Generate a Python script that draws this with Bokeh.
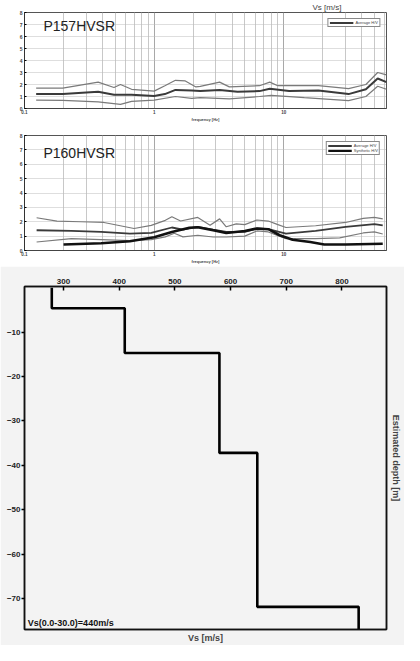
from bokeh.plotting import figure
from bokeh.models import (FixedTicker, CustomJSTickFormatter, Label, Legend, LegendItem,
                          LinearAxis, Range1d)
from bokeh.layouts import column
from bokeh.embed import file_html
from bokeh.resources import INLINE

# ---------------- data ----------------
FREQ_MAJOR = [0.1, 1, 10]
FREQ_MINOR = [0.2, 0.3, 0.4, 0.5, 0.6, 0.7, 0.8, 0.9,
              2, 3, 4, 5, 6, 7, 8, 9, 20, 30, 40, 50, 60]
HV_TICKS = [0, 1, 2, 3, 4, 5, 6, 7, 8]

# P157 HVSR
p157_f_up = [0.123, 0.197, 0.37, 0.49, 0.55, 0.67, 1.0, 1.21, 1.46, 1.74, 2.1, 2.27,
             3.2, 3.8, 6.5, 7.8, 9.0, 18.5, 31.6, 43, 53, 62]
p157_v_up = [1.7, 1.7, 2.2, 1.75, 2.0, 1.6, 1.45, 1.9, 2.35, 2.3, 1.8, 1.85,
             2.2, 1.8, 1.9, 2.2, 1.9, 1.9, 1.65, 2.0, 3.0, 2.8]
p157_f_mean = [0.123, 0.197, 0.37, 0.49, 0.67, 1.0, 1.21, 1.46, 1.95, 2.27, 3.2, 4.4,
               6.5, 7.8, 11, 18.5, 31.6, 43, 53, 62]
p157_v_mean = [1.2, 1.2, 1.4, 1.15, 1.15, 1.05, 1.2, 1.55, 1.5, 1.45, 1.55, 1.4,
               1.45, 1.65, 1.45, 1.5, 1.2, 1.6, 2.5, 2.2]
p157_f_low = [0.123, 0.197, 0.37, 0.55, 0.67, 1.0, 1.46, 1.95, 2.27, 3.8, 6.5, 8.0,
              14.4, 31.6, 43, 53, 62]
p157_v_low = [0.7, 0.68, 0.55, 0.35, 0.6, 0.7, 1.0, 0.85, 0.9, 0.8, 1.0, 1.1,
              0.9, 0.65, 1.0, 1.85, 1.6]

# P160 HVSR
p160_f_up = [0.124, 0.178, 0.272, 0.41, 0.70, 0.95, 1.22, 1.37, 1.6, 2.17, 2.7, 3.2,
             3.6, 4.3, 5.0, 6.2, 7.6, 8.9, 10.4, 17.6, 30, 41, 50, 58]
p160_v_up = [2.28, 2.04, 2.0, 1.95, 1.53, 1.75, 2.1, 2.35, 2.05, 2.3, 1.76, 2.2,
             1.65, 1.85, 1.8, 2.12, 2.05, 1.82, 1.6, 1.72, 1.95, 2.23, 2.3, 2.2]
p160_f_mean = [0.124, 0.23, 0.39, 0.65, 0.95, 1.37, 1.67, 2.17, 2.85, 3.6, 5.0, 6.2,
               7.6, 10.4, 17.6, 30, 50, 58]
p160_v_mean = [1.41, 1.36, 1.29, 1.18, 1.22, 1.6, 1.45, 1.65, 1.45, 1.29, 1.29, 1.53,
               1.48, 1.18, 1.36, 1.64, 1.83, 1.75]
p160_f_low = [0.124, 0.23, 0.39, 0.65, 0.95, 1.22, 1.43, 1.67, 2.17, 2.85, 3.6, 5.0,
              6.2, 7.6, 10.4, 17.6, 27, 41, 50, 58]
p160_v_low = [0.59, 0.83, 0.76, 0.69, 0.76, 0.95, 1.2, 0.95, 1.06, 0.94, 0.94, 1.0,
              1.36, 1.29, 0.82, 0.82, 0.88, 1.22, 1.29, 1.15]
p160_f_syn = [0.2, 0.39, 0.65, 1.0, 1.37, 1.87, 2.17, 2.85, 3.6, 5.0, 6.2, 7.6,
              9.3, 11.7, 16, 20.5, 30, 58]
p160_v_syn = [0.42, 0.5, 0.64, 0.92, 1.29, 1.58, 1.62, 1.41, 1.22, 1.36, 1.53, 1.48,
              1.06, 0.75, 0.59, 0.42, 0.42, 0.47]

# Vs profile
layer_vs = [279, 410, 580, 648, 830]
layer_top = [0.0, -4.6, -14.7, -37.2, -71.9]
layer_bottom = [-4.6, -14.7, -37.2, -71.9, -77.0]
VS_TICKS = [300, 400, 500, 600, 700, 800]
DEPTH_TICKS = [-10, -20, -30, -40, -50, -60, -70]
VS30_TEXT = "Vs(0.0-30.0)=440m/s"

FONT = "Liberation Sans"


def make_hvsr(height, border_top, border_bottom, name):
    p = figure(width=404, height=height, x_axis_type="log",
               x_range=Range1d(0.1, 62), y_range=Range1d(0, 8),
               output_backend="svg", toolbar_location=None,
               min_border_left=4, min_border_right=1,
               min_border_top=border_top, min_border_bottom=border_bottom,
               background_fill_color="white", border_fill_color="white")
    p.outline_line_color = "#555555"
    p.outline_line_width = 1

    xt = FixedTicker(ticks=FREQ_MAJOR, minor_ticks=FREQ_MINOR)
    xa = p.xaxis[0]
    xa.ticker = xt
    xa.formatter = CustomJSTickFormatter(
        code="return tick < 1 ? tick.toFixed(1) : tick.toFixed(0);")
    xa.major_label_text_font_size = "4.5px"
    xa.major_label_text_font_style = "bold"
    xa.major_label_text_font = FONT
    xa.major_label_standoff = 1
    xa.major_tick_in = 0
    xa.major_tick_out = 0
    xa.minor_tick_in = 0
    xa.minor_tick_out = 0
    xa.axis_line_color = "#444444"
    xa.axis_label = "frequency [Hz]"
    xa.axis_label_text_font_size = "4px"
    xa.axis_label_text_font_style = "bold"
    xa.axis_label_text_font = FONT
    xa.axis_label_standoff = 0
    p.xgrid[0].ticker = xt
    p.xgrid.grid_line_color = "#a8a8a8"
    p.xgrid.minor_grid_line_color = "#c8c8c8"

    yt = FixedTicker(ticks=HV_TICKS)
    ya = p.yaxis[0]
    ya.ticker = yt
    ya.major_label_text_font_size = "5px"
    ya.major_label_text_font_style = "bold"
    ya.major_label_text_font = FONT
    ya.major_label_standoff = 2
    ya.major_tick_in = 2
    ya.major_tick_out = 0
    ya.minor_tick_in = 0
    ya.minor_tick_out = 0
    ya.axis_line_color = "#333333"
    p.ygrid[0].ticker = yt
    p.ygrid.grid_line_color = "#bdbdbd"
    p.ygrid.grid_line_dash = "1 1"

    p.add_layout(Label(x=0.14, y=6.2, text=name, text_font=FONT,
                       text_font_size="14px", text_color="#222222"))
    return p


def style_legend(lg):
    lg.location = "top_right"
    lg.margin = 6
    lg.padding = 1
    lg.spacing = 0
    lg.label_text_font = FONT
    lg.label_text_font_size = "4px"
    lg.label_height = 3
    lg.glyph_height = 3
    lg.glyph_width = 24
    lg.label_standoff = 2
    lg.border_line_color = "#111111"
    lg.border_line_width = 1
    lg.background_fill_color = "white"
    lg.background_fill_alpha = 1


# ---- panel 1 ----
p1 = make_hvsr(124, 0, 0, "P157HVSR")
p1.title.text = "Vs [m/s]"
p1.title.align = "left"
p1.title.offset = 288
p1.title.text_font = FONT
p1.title.text_font_size = "8px"
p1.title.text_font_style = "normal"
p1.title.text_color = "#444444"
p1.title.standoff = 1
p1.line(p157_f_up, p157_v_up, line_color="#7a7a7a", line_width=1.2)
p1.line(p157_f_low, p157_v_low, line_color="#7a7a7a", line_width=1.2)
r1 = p1.line(p157_f_mean, p157_v_mean, line_color="#3a3a3a", line_width=2)
lg1 = Legend(items=[LegendItem(label="Average H/V", renderers=[r1])])
style_legend(lg1)
p1.add_layout(lg1)

# ---- panel 2 ----
p2 = make_hvsr(142, 11, 16, "P160HVSR")
p2.line(p160_f_up, p160_v_up, line_color="#7a7a7a", line_width=1.2)
p2.line(p160_f_low, p160_v_low, line_color="#7a7a7a", line_width=1.2)
r2 = p2.line(p160_f_mean, p160_v_mean, line_color="#3a3a3a", line_width=1.8)
r3 = p2.line(p160_f_syn, p160_v_syn, line_color="#111111", line_width=2.6)
lg2 = Legend(items=[LegendItem(label="Average H/V", renderers=[r2]),
                    LegendItem(label="Synthetic H/V", renderers=[r3])])
style_legend(lg2)
p2.add_layout(lg2)

# ---- panel 3: Vs profile ----
BG = "#f3f3f3"
p3 = figure(width=404, height=379, x_range=Range1d(230, 880), y_range=Range1d(-77, 0.3),
            x_axis_location="above", output_backend="svg", toolbar_location=None,
            min_border_left=24, min_border_right=18, min_border_top=20,
            min_border_bottom=15, background_fill_color=BG, border_fill_color=BG)
p3.grid.visible = False
p3.outline_line_color = "#111111"
p3.outline_line_width = 1.5

ta = p3.xaxis[0]
ta.ticker = FixedTicker(ticks=VS_TICKS)
ta.major_label_text_font = FONT
ta.major_label_text_font_size = "8px"
ta.major_label_text_font_style = "bold"
ta.major_label_text_color = "#222222"
ta.major_label_standoff = 3
ta.major_tick_in = 4
ta.major_tick_out = 0
ta.minor_tick_in = 0
ta.minor_tick_out = 0
ta.axis_line_color = "#111111"
ta.axis_line_width = 1.5
ta.major_tick_line_width = 1.5

la = p3.yaxis[0]
la.ticker = FixedTicker(ticks=DEPTH_TICKS)
la.major_label_text_font = FONT
la.major_label_text_font_size = "8px"
la.major_label_text_font_style = "bold"
la.major_label_text_color = "#222222"
la.major_label_standoff = 1
la.major_tick_in = 0
la.major_tick_out = 3
la.minor_tick_in = 0
la.minor_tick_out = 0
la.axis_line_color = "#111111"
la.axis_line_width = 1.5
la.major_tick_line_width = 1.5

ba = LinearAxis(ticker=FixedTicker(ticks=[]), axis_label="Vs [m/s]",
                axis_label_text_font=FONT, axis_label_text_font_size="9px",
                axis_label_text_font_style="bold", axis_label_standoff=3,
                axis_line_color="#111111", axis_line_width=1.5)
p3.add_layout(ba, "below")
ra = LinearAxis(ticker=FixedTicker(ticks=[]), axis_label="Estimated depth [m]",
                axis_label_text_font=FONT, axis_label_text_font_size="9px",
                axis_label_text_font_style="bold", axis_label_standoff=4,
                axis_line_color="#111111", axis_line_width=1.5)
p3.add_layout(ra, "right")

prof_x, prof_y = [], []
for v, t, b in zip(layer_vs, layer_top, layer_bottom):
    prof_x += [v, v]
    prof_y += [t, b]
p3.line(prof_x, prof_y, line_color="#000000", line_width=2.6)

p3.add_layout(Label(x=236, y=-76.7, text=VS30_TEXT, text_font=FONT,
                    text_font_size="9px", text_font_style="bold",
                    text_baseline="bottom", text_color="#111111"))

layout = column(p1, p2, p3, spacing=0)
open("out.html", "w").write(file_html(layout, INLINE))
